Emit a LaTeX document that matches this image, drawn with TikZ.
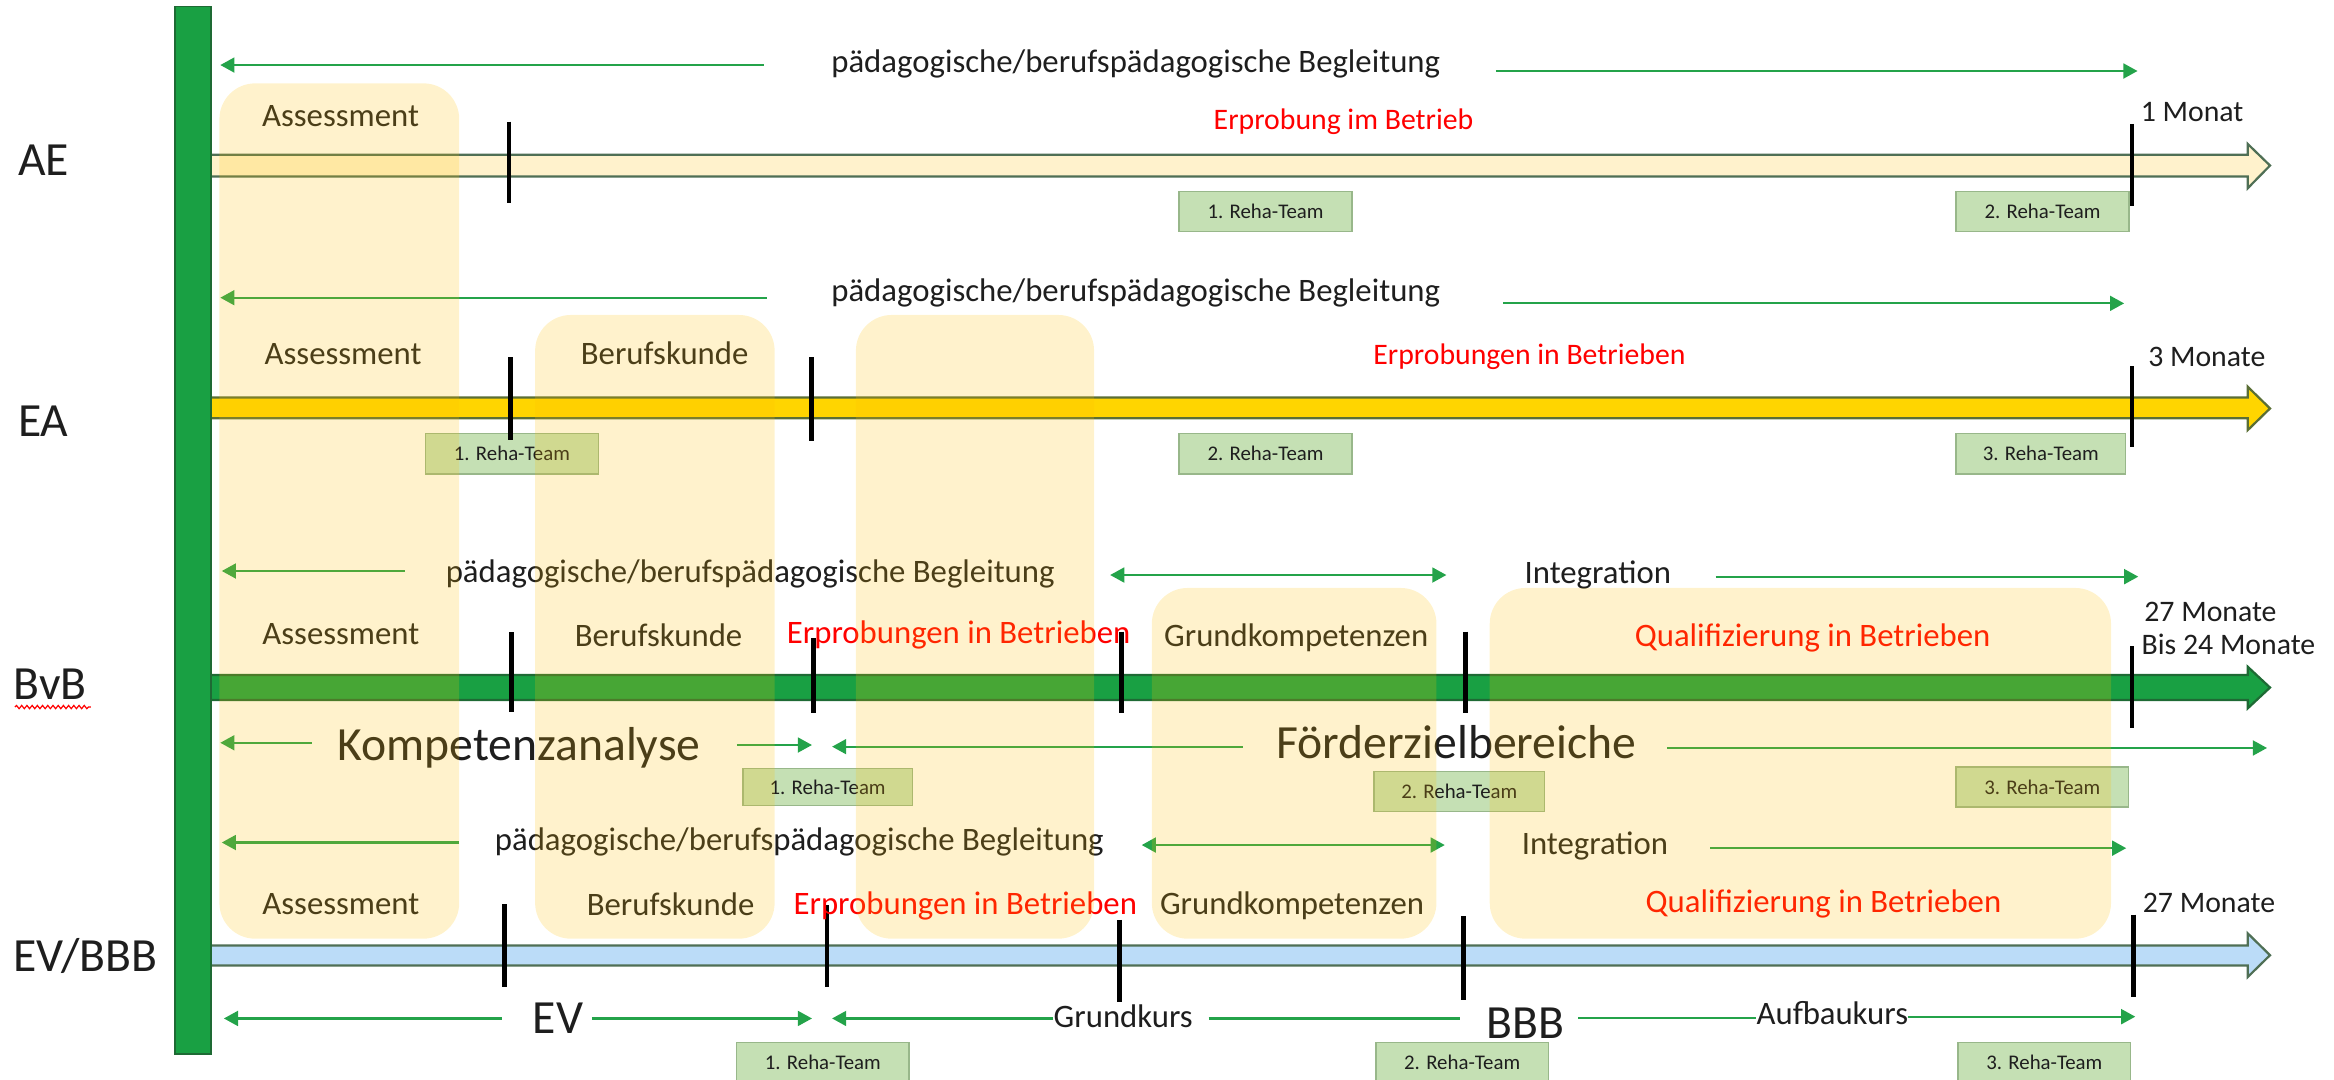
\documentclass[tikz,border=0pt]{standalone}
\usepackage{fontspec}
\setmainfont{Carlito}
\usetikzlibrary{arrows.meta,decorations.pathmorphing}
\definecolor{barg}{HTML}{19A043}
\definecolor{bargd}{HTML}{1E6A34}
\definecolor{thing}{HTML}{24A34A}
\definecolor{tcol}{HTML}{1E1E1E}
\definecolor{aef}{HTML}{FFF2CC}
\definecolor{eaf}{HTML}{FFD500}
\definecolor{evf}{HTML}{BBDCF8}
\definecolor{arrb}{HTML}{4F6F55}
\definecolor{eab}{HTML}{5A6E35}
\definecolor{rehaf}{HTML}{C5E0B4}
\definecolor{rehab}{HTML}{98B78A}
\definecolor{ovl}{HTML}{FFC000}
\begin{document}
\begin{tikzpicture}[x=1pt,y=-1pt,
  txt/.style={inner sep=0pt,anchor=base,text=tcol,font=\fontsize{22}{26}\selectfont},
  txtw/.style={txt,anchor=base west},
  smalltxt/.style={txt,font=\fontsize{20}{24}\selectfont},
  smallw/.style={smalltxt,anchor=base west},
  big/.style={txt,font=\fontsize{32}{36}\selectfont},
  redtxt/.style={txt,text=red},
  redsmall/.style={smalltxt,text=red},
  reha/.style={draw=rehab,fill=rehaf,line width=1pt,inner sep=0pt,minimum width=116pt,minimum height=27pt,text=tcol,font=\fontsize{14}{16}\selectfont},
  garrow/.style={draw=thing,line width=1.5pt,-{Triangle[length=9.5pt,width=10pt]}},
  gdouble/.style={draw=thing,line width=1.5pt,{Triangle[length=9.5pt,width=10pt]}-{Triangle[length=9.5pt,width=10pt]}},
  gline/.style={draw=thing,line width=1.5pt},
  tick/.style={draw=black,line width=3.2pt},
  blockarr/.style={draw=arrb,line width=1.5pt,line join=miter},
  ybox/.style={fill=ovl,fill opacity=0.2,rounded corners=24pt}
]
\useasboundingbox (0,0) rectangle (1568,725);
\clip (0,0) rectangle (1568,725);

% block arrows
\draw[blockarr,fill=aef] (135,104) -- (1510,104) -- (1510,96.7) -- (1525,111.2) -- (1510,126.5) -- (1510,118.5) -- (135,118.5) -- cycle;
\draw[blockarr,fill=eaf,draw=eab] (135,267) -- (1510,267) -- (1510,259.8) -- (1525,274.4) -- (1510,289) -- (1510,281) -- (135,281) -- cycle;
\draw[blockarr,fill=barg,draw=bargd] (135,453.5) -- (1510,453.5) -- (1510,447.9) -- (1525,461.9) -- (1510,475.9) -- (1510,470.3) -- (135,470.3) -- cycle;
\draw[blockarr,fill=evf] (135,635.2) -- (1510,635.2) -- (1510,627) -- (1525,641.7) -- (1510,656.4) -- (1510,648.6) -- (135,648.6) -- cycle;

% vertical bar
\draw[fill=barg,draw=bargd,line width=1pt] (117.6,4.5) rectangle (141.8,708);

% row labels
\node[big,anchor=base west] (lAE) at (12,118) {AE};
\node[big,anchor=base west] (lEA) at (12,293.4) {EA};
\node[big,anchor=base west] (lBvB) at (9,470) {BvB};
\node[big,anchor=base west] (lEV) at (9,652.5) {EV/BBB};
\draw[red,line width=0.8pt,decorate,decoration={snake,amplitude=1.1pt,segment length=3.5pt}] (lBvB.base west) ++(1,5) -- ++(51,0);

% Reha-Team boxes
\node[reha] (rAE1) at (850.2,142) {1. Reha-Team};
\node[reha] (rAE2) at (1372.2,142) {2. Reha-Team};
\node[reha] (rEA1) at (343.9,304.8) {1. Reha-Team};
\node[reha] (rEA2) at (850.2,304.8) {2. Reha-Team};
\node[reha,minimum width=114pt] (rEA3) at (1371,304.8) {3. Reha-Team};
\node[reha,minimum width=114pt,minimum height=25pt] (rB1) at (556,528.8) {1. Reha-Team};
\node[reha,minimum width=114.7pt] (rB2) at (980.4,531.7) {2. Reha-Team};
\node[reha] (rB3) at (1372,528.7) {3. Reha-Team};
\node[reha] (rE1) at (552.8,714) {1. Reha-Team};
\node[reha] (rE2) at (982.3,714) {2. Reha-Team};
\node[reha] (rE3) at (1373.4,714) {3. Reha-Team};

% ticks
\draw[tick] (342,81.7) -- (342,136.6);
\draw[tick] (1432.3,83.3) -- (1432.3,138.4);
\draw[tick] (343,240) -- (343,295.6);
\draw[tick] (545,240) -- (545,296);
\draw[tick] (1432.3,246) -- (1432.3,300.5);
\draw[tick] (343.4,424.6) -- (343.4,478.2);
\draw[tick] (546.5,428.6) -- (546.5,479.3);
\draw[tick] (753.4,424.4) -- (753.4,479.2);
\draw[tick] (984.4,424.4) -- (984.4,479.2);
\draw[tick] (1432.3,434) -- (1432.3,489.3);
\draw[tick] (339,607.5) -- (339,662.9);
\draw[tick] (555.5,608) -- (555.5,662.9);
\draw[tick] (752.2,618) -- (752.2,673);
\draw[tick] (983,615.6) -- (983,671.8);
\draw[tick] (1433.5,614.5) -- (1433.5,670);

% AE row texts
\node[txt] (begAE) at (763,49) {pädagogische/berufspädagogische Begleitung};
\node[txt] (asAE) at (228.8,85) {Assessment};
\node[redsmall] (erAE) at (902.6,87.3) {Erprobung im Betrieb};
\node[smallw] (mAE) at (1438,81.7) {1 Monat};
\draw[garrow] (513,43.7) -- (148,43.7);
\draw[garrow] (1005,47.7) -- (1436,47.7);

% EA row texts
\node[txt] (begEA) at (763,202.7) {pädagogische/berufspädagogische Begleitung};
\node[txt] (asEA) at (230.5,245.2) {Assessment};
\node[txt] (bkEA) at (446.5,245.2) {Berufskunde};
\node[redsmall] (erEA) at (1027.5,245.2) {Erprobungen in Betrieben};
\node[smallw] (mEA) at (1443,246.3) {3 Monate};
\draw[garrow] (515,200) -- (148,200);
\draw[garrow] (1010,203.8) -- (1427,203.8);

% BvB row texts
\node[txt] (begB) at (504,391) {pädagogische/berufspädagogische Begleitung};
\node[txt] (intB) at (1073.4,391.9) {Integration};
\node[txt] (asB) at (229,433.2) {Assessment};
\node[txt] (bkB) at (442.4,434.3) {Berufskunde};
\node[redtxt] (erB) at (644,432) {Erprobungen in Betrieben};
\node[txt] (gkB) at (870.8,434) {Grundkompetenzen};
\node[redtxt] (qB) at (1217.7,434.3) {Qualifizierung in Betrieben};
\node[smallw] (mB1) at (1440.4,417.6) {27 Monate};
\node[smallw] (mB2) at (1438.6,439.4) {Bis 24 Monate};
\draw[garrow] (272,383.6) -- (149,383.6);
\draw[gdouble] (745.8,386.3) -- (971.7,386.3);
\draw[garrow] (1152.6,387.4) -- (1436.5,387.4);

\node[big] (ka) at (348.7,510.6) {Kompetenzanalyse};
\node[big] (fz) at (978.3,509.8) {Förderzielbereiche};
\draw[garrow] (209.6,499) -- (148,499);
\draw[garrow] (495,500.5) -- (545.5,500.5);
\draw[garrow] (835,501.6) -- (559,501.6);
\draw[garrow] (1120,502.5) -- (1523,502.5);

% EV/BBB row texts
\node[txt] (begE) at (537,571.7) {pädagogische/berufspädagogische Begleitung};
\node[txt] (intE) at (1071.5,574) {Integration};
\node[txt] (asE) at (229,614.5) {Assessment};
\node[txt] (bkE) at (450.5,615) {Berufskunde};
\node[redtxt] (erE) at (648.5,614.5) {Erprobungen in Betrieben};
\node[txt] (gkE) at (868,614.5) {Grundkompetenzen};
\node[redtxt] (qE) at (1225,613.3) {Qualifizierung in Betrieben};
\node[smallw] (mE) at (1439.4,613.3) {27 Monate};
\draw[garrow] (308.4,566) -- (149,566);
\draw[gdouble] (767,567.7) -- (970.6,567.7);
\draw[garrow] (1149,569.8) -- (1428.4,569.8);

% bottom row
\node[big] (ev) at (374.8,694) {EV};
\node[big] (bbb) at (1024.6,697.6) {BBB};
\node[txt] (gk) at (754.6,690) {Grundkurs};
\node[txt] (ak) at (1231,688.3) {Aufbaukurs};
\draw[garrow] (337,684.2) -- (150.4,684.2);
\draw[garrow] (397.6,684.2) -- (545.5,684.2);
\draw[garrow] (gk.west |- 0,684.2) -- (559,684.2);
\draw[gline] (812,684.2) -- (980.7,684.2);
\draw[gline] (1060.2,683.7) -- (ak.west |- 0,683.7);
\draw[garrow] (ak.east |- 0,683) -- (1434.5,683);

% translucent yellow phase boxes (on top)
\fill[ybox] (147.4,56) rectangle (308.5,630.6);
\fill[ybox] (359.5,211.6) rectangle (520.4,630.6);
\fill[ybox] (575,211.6) rectangle (735,630.6);
\fill[ybox] (773.8,395) rectangle (965,630.6);
\fill[ybox] (1000.8,395) rectangle (1418.2,630.6);
\end{tikzpicture}
\end{document}
